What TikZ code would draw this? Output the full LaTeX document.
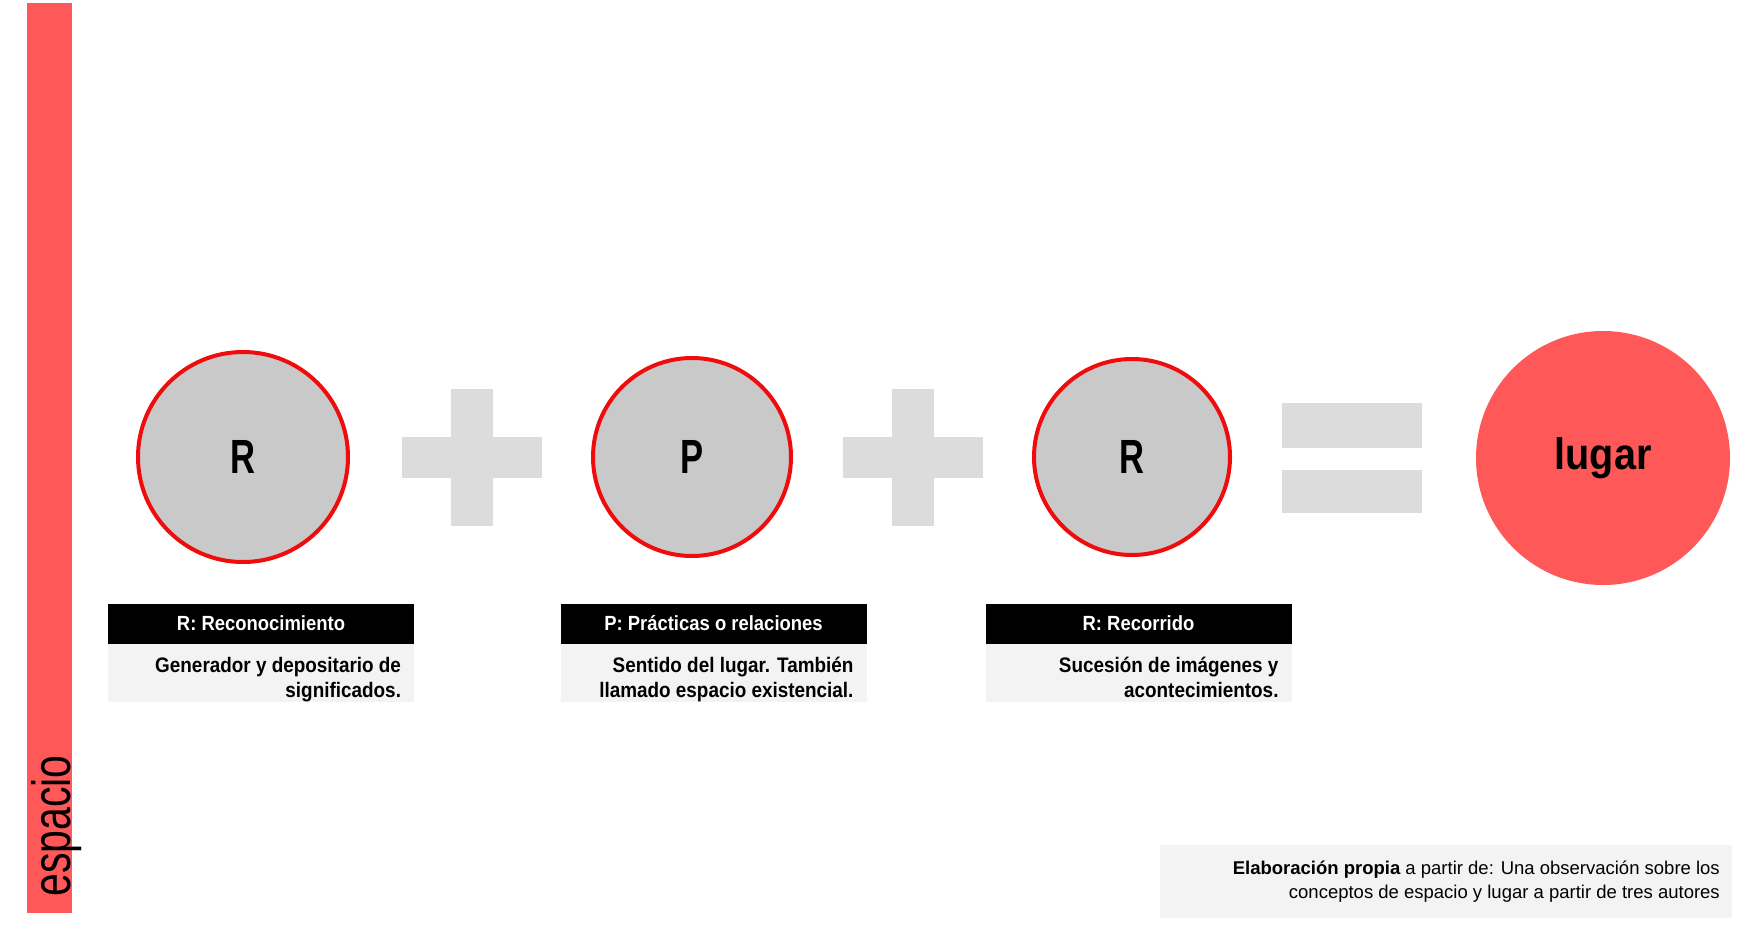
\documentclass[tikz,border=0pt]{standalone}
\usepackage{fontspec}
\setmainfont{Liberation Sans}
\newfontfamily\condensada{Liberation Sans}[FakeStretch=0.9]
\newfontfamily\muyestrecha{Liberation Sans}[FakeStretch=0.72]
\newfontfamily\estrecha{Liberation Sans}[FakeStretch=0.76]
\usetikzlibrary{positioning}

\definecolor{rojo}{RGB}{255,88,88}
\definecolor{borde}{RGB}{240,12,12}
\definecolor{gris}{RGB}{201,201,201}
\definecolor{signo}{RGB}{220,220,220}
\definecolor{sombra}{RGB}{243,243,243}

\tikzset{
  circulo/.style={circle, draw=borde, line width=4pt, fill=gris, inner sep=0pt,
    font=\muyestrecha\fontsize{48}{48}\selectfont\bfseries},
  cabecera/.style={fill=black, text=white, minimum width=306pt, minimum height=40pt,
    inner sep=0pt, font=\condensada\fontsize{20.5}{24}\selectfont\bfseries},
  texto/.style={align=right, inner sep=0pt, font=\condensada\fontsize{21}{25}\selectfont\bfseries},
}

\begin{document}
\begin{tikzpicture}[x=1pt, y=-1pt]

    \useasboundingbox[fill=white] (0,0) rectangle (1741,943);

    % barra espacio
    \fill[rojo] (27,3) rectangle (72,913);
    \node[rotate=90, anchor=base west, inner sep=0pt, font=\estrecha\fontsize{54}{54}\selectfont]
        (espacio) at (70,897) {espacio};

    % circulos
    \node[circulo, minimum size=210pt] (r1) at (243,457) {R};
    \node[circulo, minimum size=198pt] (p) at (692,457) {P};
    \node[circulo, minimum size=196pt] (r2) at (1132,457) {R};
    \node[circle, fill=rojo, minimum size=254pt, inner sep=0pt,
        font=\condensada\fontsize{44}{44}\selectfont\bfseries] (lugar) at (1603,458) {lugar};

    % signos + y =
    \foreach \cx in {472,913} {
        \fill[signo] (\cx-70,437) rectangle (\cx+70,478);
        \fill[signo] (\cx-21,389) rectangle (\cx+21,526);
    }
    \fill[signo] (1282,403) rectangle (1422,448);
    \fill[signo] (1282,470) rectangle (1422,513);

    % cabeceras
    \foreach \cx in {261,713.5,1138.5}
        \fill[sombra] (\cx-153,644) rectangle (\cx+153,702);
    \node[cabecera] (h1) at (261,623.5) {R: Reconocimiento};
    \node[cabecera] (h2) at (713.5,623.5) {P: Prácticas o relaciones};
    \node[cabecera] (h3) at (1138.5,623.5) {R: Recorrido};

    \node[texto, below left=13pt and 13pt of h1.south east] (t1)
        {Generador y depositario de\\significados.};
    \node[texto, below left=13pt and 13pt of h2.south east] (t2)
        {Sentido del lugar. También\\llamado espacio existencial.};
    \node[texto, below left=13pt and 13pt of h3.south east] (t3)
        {Sucesión de imágenes y\\acontecimientos.};

    % fuente
    \fill[sombra] (1160,845) rectangle (1732,918);
    \node[anchor=north east, align=right, inner sep=0pt, font=\fontsize{18.5}{24}\selectfont]
        (fuente) at (1720,860.5)
        {{\bfseries Elaboración propia} a partir de: Una observación sobre los\\
         conceptos de espacio y lugar a partir de tres autores};
\end{tikzpicture}
\end{document}
